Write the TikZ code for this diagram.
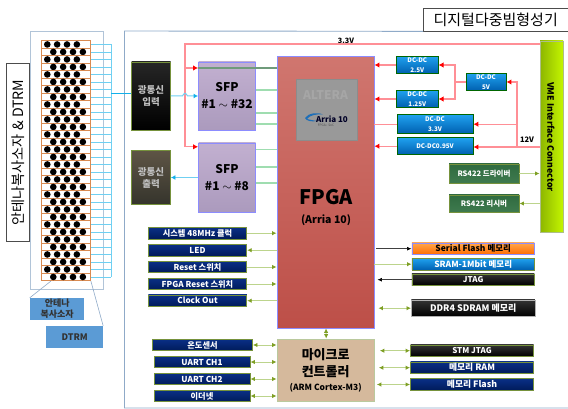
\documentclass[tikz,border=0pt]{standalone}
\usepackage{fontspec}
\setmainfont{Noto Sans CJK KR}
\usetikzlibrary{arrows.meta}
\definecolor{framegray}{HTML}{8FAAC8}
\definecolor{rowtan}{HTML}{D98A50}
\definecolor{buscyan}{HTML}{6FD0F2}
\definecolor{arrowcyan}{HTML}{12B0EA}
\definecolor{railred}{HTML}{FF8F96}
\definecolor{linkgreen}{HTML}{9FDDB0}
\definecolor{ctrlolive}{HTML}{BCD48C}
\definecolor{tipolive}{HTML}{7E9F24}
\definecolor{boxolive}{HTML}{76923C}
\definecolor{calloutblue}{HTML}{5B9BD5}
\definecolor{navytop}{HTML}{0A2F86}
\definecolor{navybot}{HTML}{001B5A}
\definecolor{dctop}{HTML}{1FA0EE}
\definecolor{dcbot}{HTML}{0060B0}
\definecolor{rstop}{HTML}{2F6B40}
\definecolor{rsbot}{HTML}{3F7A4E}
\definecolor{sfptop}{HTML}{C2B0D0}
\definecolor{sfpbot}{HTML}{AB9ABD}
\definecolor{outtop}{HTML}{5E5545}
\definecolor{outbot}{HTML}{35342C}
\definecolor{fpgatop}{HTML}{D0766F}
\definecolor{fpgabot}{HTML}{BD4F48}
\definecolor{mcufill}{HTML}{D5B99C}
\definecolor{vmedark}{HTML}{8DB600}
\definecolor{vmelime}{HTML}{C4F500}
\definecolor{swoosh}{HTML}{1F6FB8}
\begin{document}
\begin{tikzpicture}[x=1pt, y=-1pt, >=Latex, font=\bfseries,
    block/.style={draw=boxolive, line width=0.9pt, inner sep=0pt, align=center, text=white},
    navybox/.style={block, top color=navytop, bottom color=navybot, font=\bfseries\fontsize{8.2}{9}\selectfont},
    darkbox/.style={block, top color=black!80, bottom color=black, font=\bfseries\fontsize{8}{9}\selectfont},
    dcbox/.style={block, draw=black!60!green, top color=dctop, bottom color=dcbot, font=\bfseries\fontsize{6.3}{9.5}\selectfont},
    rsbox/.style={block, top color=rstop, bottom color=rsbot, font=\bfseries\fontsize{7.5}{9}\selectfont},
    sfpbox/.style={draw=blue!45, line width=0.9pt, top color=sfptop, bottom color=sfpbot, inner sep=0pt, align=center, font=\bfseries\fontsize{12}{17}\selectfont},
    callout/.style={fill=calloutblue, inner sep=0pt, align=center, text=black!80, font=\bfseries\fontsize{9}{11}\selectfont},
    railline/.style={railred, line width=1.1pt},
    railarrow/.style={railline, -{Latex[red,length=5pt,width=5.5pt]}},
    greenlink/.style={linkgreen, line width=1.1pt},
    cyanarrow/.style={buscyan, line width=1pt, -{Latex[arrowcyan,length=4.5pt,width=5pt]}},
    ctrlarrow/.style={ctrlolive, line width=1pt, -{Latex[tipolive,length=4.5pt,width=4.5pt]}},
    ctrlboth/.style={ctrlolive, line width=1pt, {Latex[tipolive,length=4.5pt,width=4.5pt]}-{Latex[tipolive,length=4.5pt,width=4.5pt]}},
    blackarrow/.style={black!75, line width=0.7pt, -{Latex[black,length=4.5pt,width=4pt]}}]

    \useasboundingbox (0,0) rectangle (568,409);

    % Frames and titles
        \node [draw=black!70, fill=white, line width=0.7pt, minimum width=144.5pt, minimum height=23pt, inner sep=0pt,
            font=\fontsize{15}{17}\selectfont] (mainTitle) at (495.7,19.5) {디지털다중빔형성기};
        \draw [framegray, line width=0.9pt] (mainTitle.south west) -- (124.5,31) -- (124.5,408) -- (568,408);
        \draw [framegray!70, line width=1pt] (30,32) rectangle (103,289);
        \node [draw=black!70, fill=white, line width=0.7pt, minimum width=178pt, minimum height=23.5pt, inner sep=0pt,
            rotate=90, font=\fontsize{14.2}{16}\selectfont] (arrayTitle) at (17.7,152.5) {안테나복사소자 \& DTRM};

    % Antenna array
        \node [draw=rowtan, line width=0.8pt, minimum width=49pt, minimum height=240pt, inner sep=0pt] (arrayBox) at (66,160.7) {};
        \coordinate (busTop) at (111,44.5);
        \coordinate (busBot) at (111,277);
        \coordinate (busOut) at (111,93.5);
        \foreach \r in {0,...,31} {
            \pgfmathsetmacro{\ry}{40.7 + 7.5*\r}
            \pgfmathsetmacro{\rc}{\ry + 3.75}
            \pgfmathsetmacro{\rs}{mod(\r,2) == 0 ? 47.3 : 53.3}
            \draw [rowtan, line width=0.7pt] (41.5,\ry) -- (90.5,\ry);
            \draw [buscyan, line width=0.7pt] (90.5,\rc) -- (111,\rc);
            \foreach \d in {0,1,2,3}
                \fill [black] ({\rs + 9.85*\d},\rc) circle (3.3);
        }
        \draw [buscyan, line width=0.8pt] (busTop) -- (busBot);

    % Signal blocks, left part
        \node [block, top color=black!85, bottom color=black, minimum width=39pt, minimum height=68pt,
            text=black!25, font=\bfseries\fontsize{9.5}{12}\selectfont] (rfIn) at (151,96) {광통신\\입력};
        \node [block, top color=outtop, bottom color=outbot, minimum width=39pt, minimum height=54pt,
            text=black!25, font=\bfseries\fontsize{9.5}{12}\selectfont] (rfOut) at (151,177.5) {광통신\\출력};
        \node [sfpbox, minimum width=57pt, minimum height=68pt] (sfpA) at (227,96) {SFP\\\#1 $\sim$ \#32};
        \node [sfpbox, minimum width=57pt, minimum height=69pt] (sfpB) at (227,177.5) {SFP\\\#1 $\sim$ \#8};

    % FPGA and controller
        \node [draw=blue!45, line width=0.9pt, top color=fpgatop, bottom color=fpgabot, minimum width=97pt, minimum height=271.5pt, inner sep=0pt] (fpga) at (325.5,192.2) {};
        \node [inner sep=0pt, font=\bfseries\fontsize{20}{22}\selectfont] (fpgaName) at (326,197) {FPGA};
        \node [inner sep=0pt, font=\bfseries\fontsize{10.5}{12}\selectfont] (fpgaPart) at (326,220) {(Arria 10)};
        \node [draw=black!45, line width=0.5pt, top color=black!40, middle color=white, bottom color=black!40, shading angle=135,
            minimum width=61pt, minimum height=60.5pt, inner sep=0pt] (chip) at (326.5,110) {};
        \node [inner sep=0pt, text=black!35, font=\bfseries\fontsize{12}{14}\selectfont] (chipMaker) at (325.5,95) {ALTERA};
        \fill [swoosh] (305,118) .. controls (308,113) and (318,112) .. (323,114.5) .. controls (316,114) and (310,115) .. (307,119) .. controls (311,120) and (314,120.5) .. (317,121) .. controls (312,122) and (306,121) .. (305,118);
        \node [inner sep=0pt, text=black!85!blue, font=\bfseries\itshape\fontsize{8}{9}\selectfont] (chipFamily) at (332,119) {Arria 10};
        \node [inner sep=0pt, text=black!70, font=\fontsize{3.2}{4}\selectfont] (chipKind) at (326,125.5) {FPGA • SoC};
        \node [draw=boxolive!50, line width=0.8pt, fill=mcufill, minimum width=97.5pt, minimum height=62.7pt, inner sep=0pt,
            align=center, font=\bfseries\fontsize{13}{17}\selectfont] (mcu) at (325.7,370.3)
            {마이크로\\컨트롤러\\[-3pt]{\fontsize{8.5}{10}\selectfont (ARM Cortex-M3)}};

    % Power blocks
        \node [dcbox, minimum width=41.5pt, minimum height=17pt] (dcA) at (417.3,65) {DC-DC\\2.5V};
        \node [dcbox, minimum width=41.5pt, minimum height=17pt] (dcB) at (417.3,99) {DC-DC\\1.25V};
        \node [dcbox, minimum width=40pt, minimum height=17pt] (dcC) at (486,82) {DC-DC\\5V};
        \node [dcbox, minimum width=76pt, minimum height=18.5pt] (dcD) at (435,124.2) {DC-DC\\3.3V};
        \node [dcbox, minimum width=76pt, minimum height=16.5pt] (dcE) at (435,146.2) {DC-DC0.95V};
        \node [block, draw=boxolive!60, left color=vmedark, right color=vmelime, minimum width=23pt, minimum height=191pt] (vme) at (551.5,136.5) {};
        \node [inner sep=0pt, rotate=-90, font=\bfseries\fontsize{8.8}{10}\selectfont] (vmeName) at (551,137) {VME Interface Connector};
        \node [rsbox, minimum width=70pt, minimum height=19pt] (rsTx) at (484,173.5) {RS422 드라이버};
        \node [rsbox, minimum width=70pt, minimum height=17pt] (rsRx) at (484,203.5) {RS422 리시버};
        \node [inner sep=0pt, font=\bfseries\fontsize{7.3}{8}\selectfont] (voltA) at (346,40.5) {3.3V};
        \node [inner sep=0pt, font=\bfseries\fontsize{7.5}{8}\selectfont] (voltB) at (527,139.5) {12V};

    % Peripheral blocks
        \node [navybox, minimum width=98.5pt, minimum height=11.5pt] (clkBox) at (197.5,233.2) {시스템 48MHz 클럭};
        \node [navybox, minimum width=98.5pt, minimum height=11.5pt] (ledBox) at (197.5,250.2) {LED};
        \node [navybox, minimum width=98.5pt, minimum height=11.5pt] (rstBox) at (197.5,267) {Reset 스위치};
        \node [navybox, minimum width=98.5pt, minimum height=11.5pt] (frstBox) at (197.5,284) {FPGA Reset 스위치};
        \node [navybox, minimum width=98.5pt, minimum height=11.5pt] (cloBox) at (197.5,300.7) {Clock Out};
        \node [navybox, minimum width=100pt, minimum height=11.5pt] (tmpBox) at (202.5,345) {온도센서};
        \node [navybox, minimum width=96pt, minimum height=11.5pt] (uaBox) at (202,362) {UART CH1};
        \node [navybox, minimum width=96pt, minimum height=11.5pt] (ubBox) at (202,379) {UART CH2};
        \node [navybox, minimum width=96pt, minimum height=11.5pt] (ethBox) at (202,396) {이더넷};
        \node [block, draw=blue!45, top color=orange!70, bottom color=orange!85!red, text=black, minimum width=122.5pt, minimum height=11.5pt,
            font=\bfseries\fontsize{8.5}{9}\selectfont] (flashBox) at (473.2,248.7) {Serial Flash 메모리};
        \node [block, top color=dctop, bottom color=dcbot, minimum width=122.5pt, minimum height=11.5pt,
            font=\bfseries\fontsize{8.5}{9}\selectfont] (sramBox) at (473.2,264.2) {SRAM-1Mbit 메모리};
        \node [darkbox, minimum width=122.5pt, minimum height=11.5pt] (jtagBox) at (473.2,279.7) {JTAG};
        \node [darkbox, draw=black!30, minimum width=123.5pt, minimum height=16.5pt, font=\bfseries\fontsize{9}{10}\selectfont] (ddrBox) at (473.2,308.2) {DDR4 SDRAM 메모리};
        \node [darkbox, minimum width=123pt, minimum height=11.5pt] (stmBox) at (472,350.7) {STM JTAG};
        \node [navybox, minimum width=123pt, minimum height=11.5pt, font=\bfseries\fontsize{8.8}{9}\selectfont] (ramBox) at (472,367.7) {메모리 RAM};
        \node [navybox, minimum width=123pt, minimum height=11.5pt, font=\bfseries\fontsize{8.8}{9}\selectfont] (romBox) at (472,384.5) {메모리 Flash};

    % Callouts
        \node [callout, minimum width=54.5pt, minimum height=22pt] (elemBox) at (57.2,309) {안테나\\복사소자};
        \node [callout, minimum width=56.5pt, minimum height=22pt] (dtrmBox) at (74.7,337) {DTRM};
        \draw [framegray, line width=0.6pt] (51,281) -- (elemBox.north west);
        \draw [framegray, line width=0.6pt] (arrayBox.south east) -- (dtrmBox.north east);

    % Connectors
        %% 3.3V rail
        \coordinate (railTurn) at (185,44);
        \draw [railline] (vme.west |- railTurn) -- (railTurn) -- (185,146.8);
        \draw [railarrow] (185,68) -- (sfpA.west |- 0,68);
        \draw [railarrow] (185,146.8) -- (sfpB.west |- 0,146.8);

        %% optical signals
        \draw [arrowcyan, line width=0.9pt] (busOut) -- (rfIn.west |- busOut);
        \draw [cyanarrow] (rfIn.east) -- (182.5,96) .. controls (184,92.5) and (186,92.5) .. (187.5,96) -- (sfpA.west);
        \draw [cyanarrow] (sfpB.west) -- (rfOut.east);

        %% SFP to FPGA
        \draw [black!30!linkgreen, line width=1.1pt] (sfpA.west |- 0,68) -- (fpga.west |- 0,68);
        \foreach \y in {90,113,124}
            \draw [greenlink] (sfpA.east |- 0,\y) -- (fpga.west |- 0,\y);
        \foreach \y in {149.5,167,183}
            \draw [greenlink] (sfpB.east |- 0,\y) -- (fpga.west |- 0,\y);

        %% converters
        \draw [railarrow] (dcA.west) -- (fpga.east |- dcA);
        \draw [railarrow] (dcB.west) -- (fpga.east |- dcB);
        \draw [railline] (dcD.west) -- (fpga.east |- dcD);
        \draw [railarrow] (dcE.west) -- (fpga.east |- dcE);
        \coordinate (fiveTurn) at (455,82);
        \draw [railline] (dcC.west) -- (fiveTurn);
        \draw [railarrow] (fiveTurn) -- (fiveTurn |- dcA) -- (dcA.east);
        \draw [railarrow] (fiveTurn) -- (fiveTurn |- dcB) -- (dcB.east);
        \coordinate (twelveTurn) at (517,147);
        \draw [railline] (vme.west |- twelveTurn) -- (twelveTurn);
        \draw [railarrow] (twelveTurn) -- (twelveTurn |- dcC) -- (dcC.east);
        \draw [railarrow] (twelveTurn |- dcD) -- (dcD.east);
        \draw [railarrow] (twelveTurn) -- (dcE.east |- twelveTurn);
        \draw [ctrlarrow] (rsTx.east) -- (vme.west |- rsTx);
        \draw [ctrlarrow] (vme.west |- rsRx) -- (rsRx.east);

        %% peripherals
        \draw [ctrlarrow] (clkBox.east) -- (fpga.west |- clkBox);
        \draw [ctrlarrow] (fpga.west |- ledBox) -- (ledBox.east);
        \draw [ctrlarrow] (rstBox.east) -- (fpga.west |- rstBox);
        \draw [ctrlarrow] (frstBox.east) -- (fpga.west |- frstBox);
        \draw [ctrlarrow] (fpga.west |- cloBox) -- (cloBox.east);
        \draw [ctrlboth] (tmpBox.east) -- (mcu.west |- tmpBox);
        \draw [ctrlboth] (uaBox.east) -- (mcu.west |- uaBox);
        \draw [ctrlboth] (ubBox.east) -- (mcu.west |- ubBox);
        \draw [ctrlboth] (ethBox.east) -- (mcu.west |- ethBox);
        \draw [blackarrow] (fpga.east |- flashBox) ++(2,0) -- (flashBox.west);
        \draw [ctrlarrow] (fpga.east |- sramBox) -- (sramBox.west);
        \draw [blackarrow] (jtagBox.west) -- ([xshift=3pt]fpga.east |- jtagBox);
        \draw [ctrlboth] ([xshift=4pt]fpga.east |- ddrBox) -- (ddrBox.west);
        \draw [ctrlboth] (fpga.south) ++(0.5,0) -- ([xshift=0.5pt]mcu.north);
        \draw [ctrlboth] ([xshift=5pt]mcu.east |- stmBox) -- (stmBox.west);
        \draw [ctrlboth] ([xshift=4pt]mcu.east |- ramBox) -- (ramBox.west);
        \draw [ctrlboth] ([xshift=2pt]mcu.east |- romBox) -- (romBox.west);

\end{tikzpicture}
\end{document}
